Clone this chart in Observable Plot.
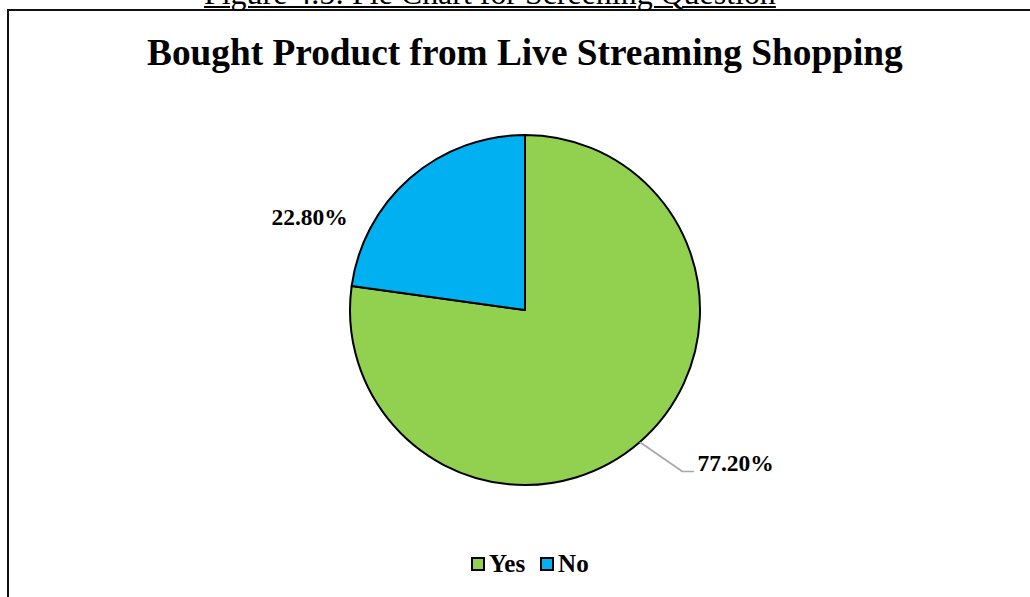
<!DOCTYPE html>
<html><head><meta charset="utf-8">
<script src="https://cdn.jsdelivr.net/npm/d3@7"></script>
<script src="https://cdn.jsdelivr.net/npm/@observablehq/plot@0.6"></script>
<style>
body{margin:0;width:1030px;height:597px;overflow:hidden;position:relative;background:#fff;font-family:"Liberation Serif","Times New Roman",serif;color:#000;}
.t{position:absolute;white-space:nowrap;line-height:1;}
.t span{display:inline-block;}
#caption span{text-decoration:underline;text-decoration-thickness:1.5px;text-underline-offset:2px;}
#title,#legend{font-weight:bold;}
#frame{position:absolute;left:7px;top:9px;width:1060px;height:620px;border:2px solid #111;box-sizing:border-box;}
#chart{position:absolute;left:0;top:100px;}
#legend{display:flex;align-items:center;font-size:25px;}
.sw{display:inline-block;width:10px;height:10px;border:2px solid #000;margin-right:4px;}
.item{display:flex;align-items:center;margin-right:15px;}
</style></head><body>
<div id="frame"></div>
<div id="caption" class="t"><span>Figure 4.5: Pie Chart for Screening Question</span></div>
<div id="title" class="t"><span>Bought Product from Live Streaming Shopping</span></div>
<div id="chart"></div>
<div id="legend" class="t"></div>
<script>
const categories = ["Yes", "No"];
const values = [77.2, 22.8];
const valueLabels = ["77.20%", "22.80%"];
const colors = ["#92D050", "#00B0F0"];

// Fit a text line between x0 and x1 with a given baseline
function fit(el, x0, x1, baseline, fs) {
  el.style.fontSize = fs + "px";
  const w = el.querySelector("span").getBoundingClientRect().width;
  const f = fs * (x1 - x0) / w;
  el.style.fontSize = f + "px";
  el.style.left = x0 + "px";
  el.style.top = (baseline - 0.8375 * f) + "px";
}
fit(document.getElementById("caption"), 204, 776, 4.5, 28);
fit(document.getElementById("title"), 147, 903, 65, 37);

const arcs = d3.pie().sort(null).value(d => d.value).startAngle(0).endAngle(2 * Math.PI)(
  categories.map((c, i) => ({category: c, value: values[i], label: valueLabels[i], color: colors[i]}))
);
const data = arcs.map(a => {
  const mid = (a.startAngle + a.endAngle) / 2;
  return {...a.data, mid, ex: Math.sin(mid), ey: Math.cos(mid)};
});

function pieSlices(index, scales) {
  const cx = scales.x(0), cy = scales.y(0), r = scales.x(1) - scales.x(0);
  const arc = d3.arc().innerRadius(0).outerRadius(r);
  const g = d3.create("svg:g").attr("transform", `translate(${cx},${cy})`);
  g.selectAll("path").data(arcs).join("path")
    .attr("d", arc)
    .attr("fill", d => d.data.color)
    .attr("stroke", "#000")
    .attr("stroke-width", 2)
    .attr("stroke-linejoin", "round");
  return g.node();
}

const U = 175; // pixels per unit radius (x range 350..700)
const yes = data.filter(d => d.category === "Yes");
const no = data.filter(d => d.category === "No");
const leader = yes.flatMap(d => [
  {x: d.ex, y: d.ey},
  {x: d.ex + 42 / U, y: d.ey - 29 / U},
  {x: d.ex + 53 / U, y: d.ey - 29 / U}
]);

const plot = Plot.plot({
  width: 1030,
  height: 430,
  marginLeft: 350,
  marginRight: 330,
  marginTop: 35,
  marginBottom: 45,
  x: {domain: [-1, 1], axis: null},
  y: {domain: [-1, 1], axis: null},
  style: {background: "transparent", overflow: "visible"},
  marks: [
    pieSlices,
    Plot.line(leader, {x: "x", y: "y", stroke: "#A6A6A6", strokeWidth: 1.6, curve: "linear"}),
    Plot.text(yes, {x: "ex", y: "ey", text: "label", dx: 57, dy: 21, textAnchor: "start",
      fontSize: 23.5, fontWeight: "bold", fontFamily: "Liberation Serif, Times New Roman, serif", fill: "#000"}),
    Plot.text(no, {x: "ex", y: "ey", text: "label", dx: -101, dy: 39, textAnchor: "middle",
      fontSize: 23.5, fontWeight: "bold", fontFamily: "Liberation Serif, Times New Roman, serif", fill: "#000"})
  ]
});
document.getElementById("chart").appendChild(plot);

const legend = document.getElementById("legend");
categories.forEach((c, i) => {
  const item = document.createElement("div");
  item.className = "item";
  const sw = document.createElement("span");
  sw.className = "sw";
  sw.style.background = colors[i];
  const tx = document.createElement("span");
  tx.textContent = c;
  item.appendChild(sw); item.appendChild(tx);
  legend.appendChild(item);
});
legend.style.left = "471px";
legend.style.top = (572 - 0.8375 * 25) + "px";
</script>
</body></html>
